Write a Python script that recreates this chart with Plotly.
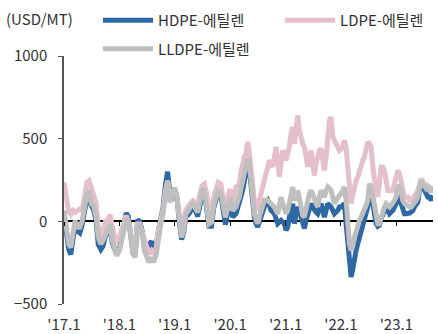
import pandas as pd
import plotly.graph_objects as go

# Spread between polyethylene grades and ethylene (USD/MT)
# 2017-01 .. 2020-01: semi-monthly observations
hdpe_a = [40, -60, -170, -200, -110, -20, -60, -70, -20, 60, 140, 120, 90, 70, 0,
          -140, -170, -150, -90, -70, -30, -130, -170, -200, -170, -100, -30, 50, 30,
          -80, -190, -200, 10, 0, -60, -140, -150, -140, -120, -200, -150, -60, 0, 80,
          220, 300, 160, 130, 190, 150, -10, -110, -70, 30, 40, 60, 100, 60, 30, 90,
          170, 180, 60, -30, -30, 80, 130, 170, 160, 60, -20, 40, 110]
ldpe_a = [236, 165, 60, 44, 65, 54, 65, 75, 65, 145, 236, 246, 190, 160, 110, -30,
          -95, -60, 0, 5, 40, -30, -95, -117, -97, -56, 4, 34, 4, -77, -137, -137,
          -16, -16, -77, -117, -157, -198, -177, -198, -157, -56, 4, 65, 185, 246,
          155, 165, 195, 145, 44, -36, 4, 65, 95, 115, 125, 115, 95, 165, 216, 226,
          165, 65, 65, 145, 205, 236, 226, 145, 125, 145, 195]
lldpe_a = [65, -36, -137, -157, -77, 4, -36, -36, 4, 85, 165, 175, 105, 95, 24, -97,
           -137, -117, -77, -56, -16, -117, -157, -208, -177, -117, -56, 4, 14, -97,
           -198, -218, -56, -16, -77, -177, -218, -248, -218, -248, -198, -97, -16,
           44, 145, 240, 115, 145, 205, 145, 4, -97, -56, 44, 65, 85, 115, 85, 54,
           115, 185, 195, 85, -16, -6, 95, 145, 185, 175, 85, 24, 75, 145]

# 2020-01 .. 2023-08: 11-day observations
hdpe_b = [26, 35, 46, 80, 107, 150, 187, 250, 308, 350, 320, 208, 107, 26, -14, -34,
          -4, 26, 66, 107, 117, 127, 87, 66, 56, 46, 16, -14, -4, 6, -4, -14, -54,
          -34, 26, 87, 107, -14, 46, 87, 66, 26, -24, -44, 6, 46, 87, 107, 87, 66,
          56, 46, 76, 107, 66, 26, 66, 107, 97, 87, 66, 46, 56, 66, 87, 87, 97, 107,
          -14, -115, -216, -337, -290, -216, -175, -135, -95, -54, -24, 6, 46, 87,
          167, 157, 107, 26, -14, -30, -24, 16, 46, 66, 87, 66, 46, 56, 66, 87, 107,
          167, 167, 107, 66, 46, 46, 46, 50, 56, 66, 87, 107, 117, 187, 228, 208,
          187, 167, 147, 147, 127, 157]
ldpe_b = [87, 150, 208, 215, 228, 300, 369, 390, 409, 480, 420, 308, 167, 127, 66,
          87, 127, 167, 228, 248, 288, 329, 369, 349, 329, 389, 450, 369, 268, 349,
          429, 409, 369, 409, 450, 530, 571, 470, 550, 641, 550, 490, 470, 450, 389,
          329, 389, 429, 349, 278, 349, 409, 429, 439, 369, 308, 389, 470, 611, 631,
          510, 490, 470, 450, 429, 439, 450, 490, 450, 329, 187, 107, 160, 228, 248,
          268, 308, 349, 369, 389, 429, 480, 470, 450, 329, 228, 187, 147, 268, 329,
          329, 308, 248, 187, 187, 187, 187, 228, 288, 308, 288, 248, 187, 147, 147,
          147, 127, 127, 137, 147, 167, 187, 228, 258, 238, 228, 218, 208, 208, 198,
          208]
lldpe_b = [66, 75, 87, 120, 147, 200, 248, 300, 349, 380, 350, 228, 127, 46, 16, -14,
           26, 66, 107, 127, 127, 127, 117, 107, 97, 87, 66, 46, 97, 147, 107, 66, 46,
           66, 127, 187, 208, 127, 147, 187, 127, 66, 36, 26, 87, 147, 167, 187, 157,
           127, 117, 87, 147, 187, 167, 147, 187, 208, 198, 187, 147, 107, 127, 147,
           157, 167, 187, 208, 127, -14, -135, -175, -150, -95, -54, -14, 6, 26, 46,
           66, 97, 127, 228, 208, 147, 66, 6, -14, -14, 26, 66, 87, 107, 97, 87, 97,
           107, 127, 147, 208, 218, 167, 127, 107, 97, 87, 87, 87, 97, 107, 127, 147,
           208, 248, 228, 208, 198, 208, 187, 187, 208]

dates_a = pd.date_range("2017-01-01", "2020-01-01", freq="SMS")
dates_b = pd.date_range("2020-01-18", periods=len(hdpe_b), freq="11D")
dates = [d.strftime("%Y-%m-%d") for d in list(dates_a) + list(dates_b)]
hdpe = hdpe_a + hdpe_b
ldpe = ldpe_a + ldpe_b
lldpe = lldpe_a + lldpe_b

tick_dates = ["2017-01-01", "2018-01-01", "2019-01-01", "2020-01-01",
              "2021-01-01", "2022-01-01", "2023-01-01"]
tick_text = ["'17.1", "'18.1", "'19.1", "'20.1", "'21.1", "'22.1", "'23.1"]
y_ticks = [-500, 0, 500, 1000]

FONT = "Noto Sans CJK KR"
TXT = "#333333"
x_range = ["2017-01-01", "2023-08-31"]

fig = go.Figure()
fig.add_trace(go.Scatter(x=dates, y=hdpe, name="HDPE-에틸렌", mode="lines",
                         line=dict(color="#2f69a5", width=5),
                         legendgroup="h"))
fig.add_trace(go.Scatter(x=dates, y=ldpe, name="LDPE-에틸렌", mode="lines",
                         line=dict(color="#e6bfcc", width=5),
                         legend="legend2", legendgroup="l"))
fig.add_trace(go.Scatter(x=dates, y=lldpe, name="LLDPE-에틸렌", mode="lines",
                         line=dict(color="#bfbfbf", width=5), xaxis="x2",
                         legendgroup="ll"))

fig.update_layout(
    width=438, height=334,
    margin=dict(l=64, r=5, t=56, b=30, autoexpand=False),
    paper_bgcolor="white", plot_bgcolor="white",
    font=dict(family=FONT, size=15, color=TXT),
    showlegend=True,
    xaxis=dict(type="date", range=x_range, tickvals=tick_dates, ticktext=tick_text,
               showgrid=False, zeroline=False, showline=False,
               ticks="outside", ticklen=7, tickcolor="rgba(0,0,0,0)",
               tickfont=dict(family=FONT, size=15, color=TXT)),
    xaxis2=dict(type="date", range=x_range, overlaying="x", anchor="free",
                position=1/3, tickvals=tick_dates, showticklabels=False,
                showgrid=False, zeroline=False, showline=False, ticks="outside",
                ticklen=4, tickwidth=1.2, tickcolor="#000000"),
    yaxis=dict(range=[-500, 1000], tickvals=y_ticks, showgrid=False,
               zeroline=True, zerolinecolor="#000000", zerolinewidth=1.5,
               showline=True, linecolor="#555555", linewidth=1.5,
               ticks="outside", ticklen=4, tickcolor="#555555",
               ticklabelstandoff=8,
               tickfont=dict(family=FONT, size=15, color=TXT)),
    legend=dict(orientation="v", xref="container", yref="container",
                x=98/438, y=1 - 4/334, xanchor="left", yanchor="top",
                tracegroupgap=6, itemwidth=50, bgcolor="rgba(0,0,0,0)",
                font=dict(family=FONT, size=15, color=TXT)),
    legend2=dict(orientation="v", xref="container", yref="container",
                 x=280/438, y=1 - 4/334, xanchor="left", yanchor="top",
                 itemwidth=50, bgcolor="rgba(0,0,0,0)",
                 font=dict(family=FONT, size=15, color=TXT)),
    annotations=[dict(text="(USD/MT)", xref="paper", yref="paper",
                      x=0, y=1, xshift=-60, yshift=38, xanchor="left",
                      yanchor="middle", showarrow=False,
                      font=dict(family=FONT, size=15, color=TXT))],
)

fig.write_html("out.html")
